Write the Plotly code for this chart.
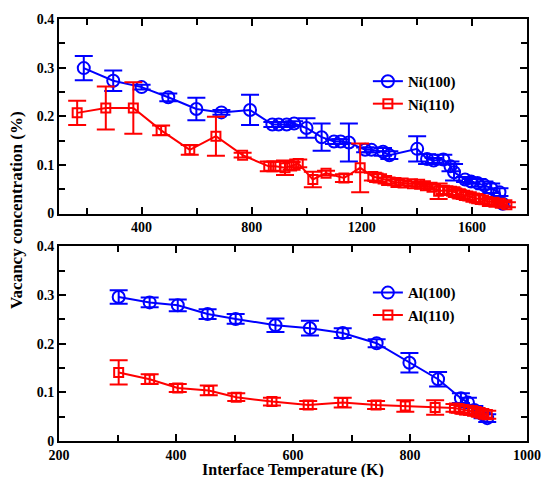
import plotly.graph_objects as go
from plotly.subplots import make_subplots

# ---- Top panel: Ni ----
ni100_x = [190, 297, 400, 497, 599, 690, 794, 875, 898, 927, 954, 999, 1054, 1099, 1123, 1153,
           1212, 1235, 1277, 1300, 1401, 1437, 1461, 1496, 1522, 1535, 1575, 1597, 1620, 1645,
           1670, 1700, 1712]
ni100_y = [0.299, 0.273, 0.260, 0.239, 0.215, 0.208, 0.213, 0.183, 0.183, 0.183, 0.185, 0.176,
           0.157, 0.148, 0.148, 0.146, 0.131, 0.131, 0.127, 0.120, 0.133, 0.112, 0.109, 0.111,
           0.097, 0.085, 0.070, 0.066, 0.063, 0.058, 0.052, 0.044, 0.020]
ni100_e = [0.025, 0.021, 0.005, 0.008, 0.023, 0.005, 0.031, 0.005, 0.005, 0.005, 0.005, 0.020,
           0.028, 0.005, 0.005, 0.039, 0.005, 0.005, 0.008, 0.008, 0.026, 0.010, 0.005, 0.010,
           0.010, 0.017, 0.005, 0.005, 0.008, 0.008, 0.010, 0.008, 0.005]

ni110_x = [166, 270, 370, 471, 575, 670, 767, 862, 886, 921, 945, 969, 1022, 1070, 1135, 1194,
           1240, 1259, 1290, 1324, 1350, 1384, 1410, 1431, 1455, 1479, 1500, 1526, 1545, 1561,
           1585, 1609, 1630, 1656, 1680, 1703, 1727]
ni110_y = [0.207, 0.217, 0.217, 0.171, 0.131, 0.159, 0.120, 0.097, 0.097, 0.094, 0.098, 0.103,
           0.070, 0.083, 0.073, 0.094, 0.076, 0.073, 0.068, 0.064, 0.063, 0.061, 0.060, 0.057,
           0.054, 0.046, 0.048, 0.046, 0.042, 0.039, 0.036, 0.032, 0.029, 0.025, 0.023, 0.021,
           0.018]
ni110_e = [0.025, 0.044, 0.053, 0.010, 0.010, 0.040, 0.005, 0.010, 0.010, 0.015, 0.008, 0.008,
           0.016, 0.005, 0.008, 0.050, 0.008, 0.008, 0.006, 0.006, 0.005, 0.005, 0.005, 0.005,
           0.005, 0.016, 0.008, 0.008, 0.008, 0.008, 0.008, 0.008, 0.008, 0.006, 0.006, 0.005,
           0.005]

# ---- Bottom panel: Al ----
al100_x = [302, 355, 403, 454, 502, 570, 629, 685, 743, 799, 848, 887, 899, 910, 924, 932]
al100_y = [0.296, 0.285, 0.279, 0.261, 0.251, 0.238, 0.232, 0.222, 0.201, 0.161, 0.127, 0.088,
           0.079, 0.064, 0.055, 0.047]
al100_e = [0.014, 0.010, 0.012, 0.010, 0.010, 0.014, 0.015, 0.010, 0.008, 0.020, 0.015, 0.010,
           0.010, 0.008, 0.008, 0.008]

al110_x = [302, 355, 403, 456, 503, 564, 626, 685, 742, 792, 843, 876, 885, 893, 900, 907, 913,
           920, 926, 932]
al110_y = [0.141, 0.127, 0.109, 0.104, 0.090, 0.081, 0.074, 0.079, 0.074, 0.072, 0.069, 0.068,
           0.066, 0.064, 0.063, 0.062, 0.060, 0.058, 0.056, 0.054]
al110_e = [0.025, 0.010, 0.008, 0.010, 0.008, 0.008, 0.008, 0.010, 0.008, 0.012, 0.015, 0.008,
           0.008, 0.008, 0.008, 0.008, 0.008, 0.008, 0.008, 0.008]

BLUE = "#0000ff"
RED = "#ff0000"
FONT = "Liberation Serif, DejaVu Serif, Times New Roman, serif"

fig = make_subplots(rows=2, cols=1, vertical_spacing=0.078)

def add(x, y, e, name, color, symbol, size, row, legend):
    fig.add_trace(go.Scatter(
        x=x, y=y, name=name, mode="lines+markers",
        line=dict(color=color, width=2),
        marker=dict(symbol=symbol, size=size, color=color, line=dict(color=color, width=2)),
        error_y=dict(type="data", array=e, visible=True, color=color, thickness=2, width=9),
        legend=legend,
    ), row=row, col=1)

add(ni100_x, ni100_y, ni100_e, "Ni(100)", BLUE, "circle-open", 12, 1, "legend")
add(ni110_x, ni110_y, ni110_e, "Ni(110)", RED, "square-open", 9, 1, "legend")
add(al100_x, al100_y, al100_e, "Al(100)", BLUE, "circle-open", 12, 2, "legend2")
add(al110_x, al110_y, al110_e, "Al(110)", RED, "square-open", 9, 2, "legend2")

tickfont = dict(family=FONT, size=14, color="black", weight="bold")
axis_common = dict(showline=True, linewidth=2, linecolor="black", mirror="allticks",
                   ticks="inside", ticklen=7, tickwidth=2, tickcolor="black",
                   showgrid=False, zeroline=False, tickfont=tickfont)

fig.update_xaxes(range=[100, 1800], dtick=400, tick0=0,
                 minor=dict(dtick=200, tick0=0, ticks="inside", ticklen=6, tickwidth=2,
                            tickcolor="black"), row=1, col=1, **axis_common)
fig.update_xaxes(range=[200, 1000], dtick=200, tick0=0,
                 minor=dict(dtick=100, tick0=0, ticks="inside", ticklen=6, tickwidth=2,
                            tickcolor="black"), row=2, col=1, **axis_common)
fig.update_yaxes(range=[0, 0.4], dtick=0.1, tick0=0,
                 minor=dict(dtick=0.05, tick0=0, ticks="inside", ticklen=6, tickwidth=2,
                            tickcolor="black"), **axis_common)

legfont = dict(family=FONT, size=15, color="black", weight="bold")
fig.update_layout(
    width=553, height=477,
    margin=dict(l=59, r=16, t=19, b=36),
    plot_bgcolor="white", paper_bgcolor="white",
    font=dict(family=FONT, color="black"),
    showlegend=True,
    legend=dict(x=0.66, y=0.826, xanchor="left", yanchor="middle", font=legfont,
                bgcolor="rgba(0,0,0,0)", tracegroupgap=0, itemwidth=30),
    legend2=dict(x=0.66, y=0.325, xanchor="left", yanchor="middle", font=legfont,
                 bgcolor="rgba(0,0,0,0)", tracegroupgap=0, itemwidth=30),
    annotations=[
        dict(text="<b>Vacancy concentration (%)</b>", x=-0.092, y=0.547, xref="paper",
             yref="paper", textangle=-90, showarrow=False,
             font=dict(family=FONT, size=17, color="black"),
             xanchor="center", yanchor="middle"),
        dict(text="<b>Interface Temperature (K)</b>", x=0.5, y=-0.068, xref="paper",
             yref="paper", showarrow=False, font=dict(family=FONT, size=16, color="black"),
             xanchor="center", yanchor="middle"),
    ],
)

fig.write_html("out.html")
